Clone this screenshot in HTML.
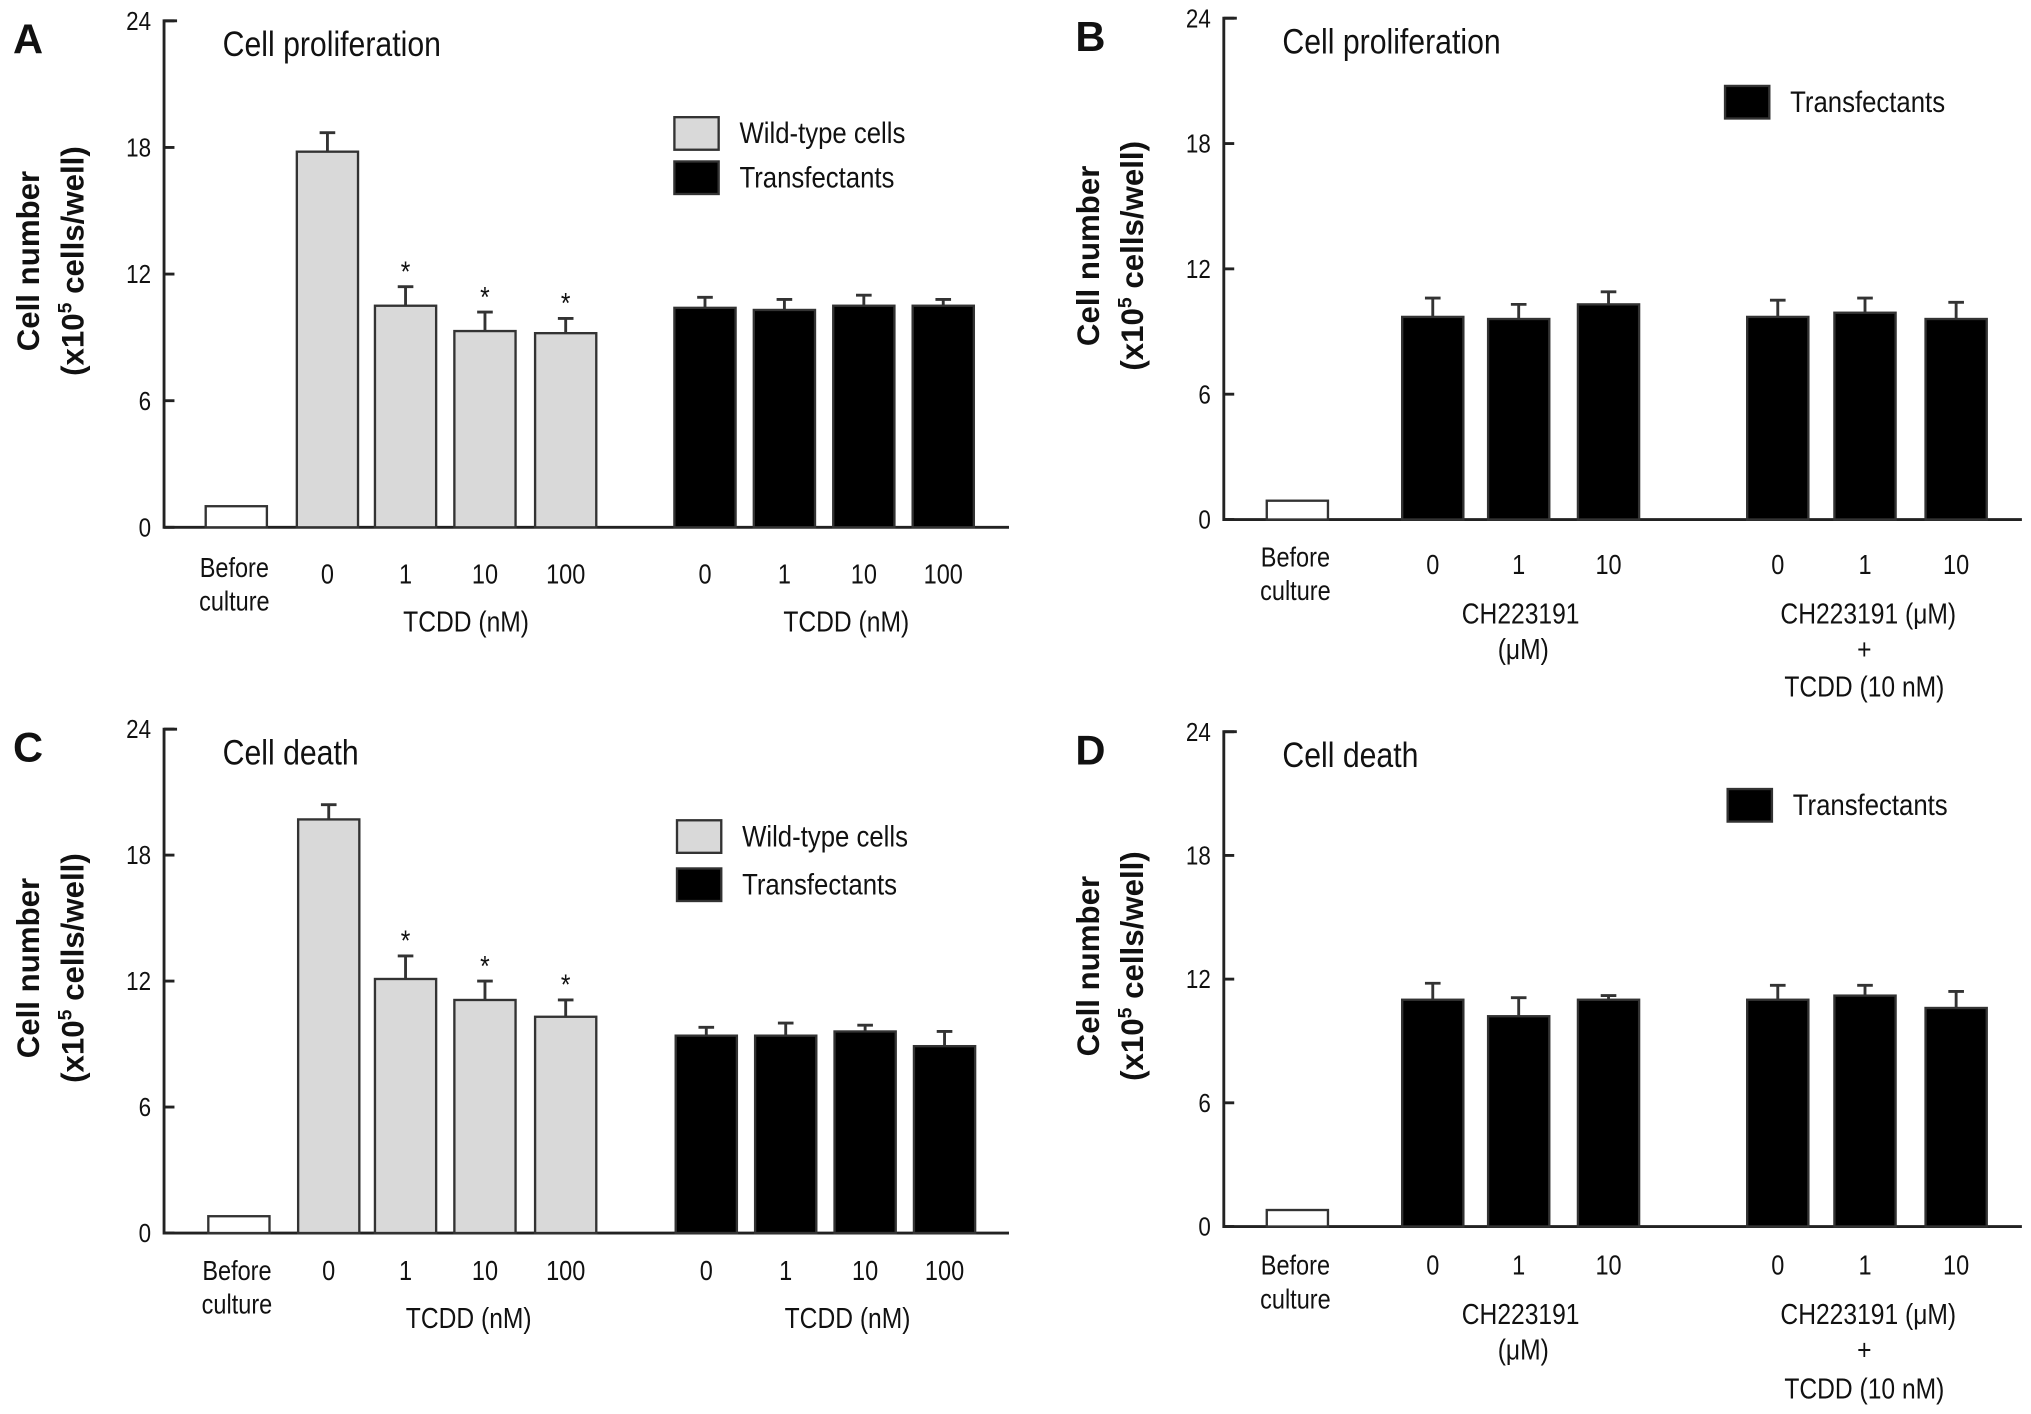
<!DOCTYPE html>
<html><head><meta charset="utf-8"><style>
html,body{margin:0;padding:0;background:#fff;}
svg{display:block;font-family:"Liberation Sans Narrow","Liberation Sans",sans-serif;}
</style></head><body>
<svg id="fig" width="2031" height="1414" viewBox="0 0 1560 1086" preserveAspectRatio="none" xmlns="http://www.w3.org/2000/svg"></svg>
<script>
// Panel A data
const aCats = ["Before culture","0","1","10","100","0","1","10","100"];
const aVals = [1.0,17.8,10.5,9.3,9.2,10.4,10.3,10.5,10.5];
const aErrs = [null,18.7,11.4,10.2,9.9,10.9,10.8,11.0,10.8];
const aStars = [false,false,true,true,true,false,false,false,false];
// Panel B data
const bCats = ["Before culture","0","1","10","0","1","10"];
const bVals = [0.9,9.7,9.6,10.3,9.7,9.9,9.6];
const bErrs = [null,10.6,10.3,10.9,10.5,10.6,10.4];
// Panel C data
const cCats = ["Before culture","0","1","10","100","0","1","10","100"];
const cVals = [0.8,19.7,12.1,11.1,10.3,9.4,9.4,9.6,8.9];
const cErrs = [null,20.4,13.2,12.0,11.1,9.8,10.0,9.9,9.6];
const cStars = [false,false,true,true,true,false,false,false,false];
// Panel D data
const dCats = ["Before culture","0","1","10","0","1","10"];
const dVals = [0.8,11.0,10.2,11.0,11.0,11.2,10.6];
const dErrs = [null,11.8,11.1,11.2,11.7,11.7,11.4];
const yTicks = [0,6,12,18,24];

const NS="http://www.w3.org/2000/svg";
const svg=document.getElementById('fig');
function mk(tag,attrs,parent){const e=document.createElementNS(NS,tag);for(const k in attrs)e.setAttribute(k,attrs[k]);(parent||svg).appendChild(e);return e;}
// condensed text: scaleX 0.85 around x
function txt(s,x,y,size,anchor,parent,weight,sx){sx=sx||0.86;const t=mk('text',{x:x/sx,y:y,transform:`scale(${sx},1)`,'font-size':size,'text-anchor':anchor||'middle',fill:'#111','font-weight':weight||'normal'},parent);t.textContent=s;return t;}

function panel(cfg){
  const g=mk('g',{});
  
  
  const y=v=>cfg.y0-(cfg.y0-cfg.y24)*v/24;
  const ax=mk('path',{d:`M${cfg.ax+10},${cfg.y24} H${cfg.ax} V${cfg.y0} H${cfg.xEnd}`,stroke:'#222','stroke-width':2.2,fill:'none'},g);
  
  
  yTicks.forEach(t=>{
    mk('line',{x1:cfg.ax,x2:cfg.ax+8,y1:y(t),y2:y(t),stroke:'#222','stroke-width':2.2},g);
    const tl=txt(String(t),cfg.ax-10,y(t)+7,20,'end',g);
    
    
  });
  cfg.vals.forEach((v,i)=>{
    const x=cfg.xs[i];
    const fill=i===0?'#fff':(cfg.gray&&i<5?'#d9d9d9':'#000');
    const r=mk('rect',{x:x,y:y(v),width:47,height:cfg.y0-y(v),fill:fill,stroke:'#333','stroke-width':1.8},g);
    
    
    const e=cfg.errs[i];
    if(e!==null){
      const cx=x+23.5;
      const eb=mk('path',{d:`M${cx},${y(v)} V${y(e)} M${cx-6},${y(e)} H${cx+6}`,stroke:'#333','stroke-width':2.2,fill:'none'},g);
      
      
      if(cfg.stars&&cfg.stars[i]){const s=txt('*',cx,y(e)-4,22,'middle',g);
        
        }
    }
    if(i>0){const l=txt(cfg.cats[i],x+23.5,cfg.numY,21,'middle',g);
      
      }
  });
  const b1=txt('Before',cfg.xs[0]+22,cfg.befY,21,'middle',g);
  
  
  const b2=txt('culture',cfg.xs[0]+22,cfg.befY+26,21,'middle',g);
  
  
  const L=mk('text',{x:cfg.letterX,y:cfg.y24+25,'font-size':32,'font-weight':'bold',fill:'#111','font-family':'Liberation Sans,sans-serif'},g);
  L.textContent=cfg.id.toUpperCase();
  
  
  const T=txt(cfg.title,cfg.ax+45,cfg.y24+27,27,'start',g,'normal');
  
  
  const ym=(cfg.y24+cfg.y0)/2-10;
  const yt=mk('text',{transform:`translate(${cfg.ax-96},${ym}) rotate(-90)`,'font-size':24,'font-weight':'bold','text-anchor':'middle',fill:'#111','font-family':'Liberation Sans,sans-serif'},g);
  yt.textContent='Cell number';
  
  
  const yt2=mk('text',{transform:`translate(${cfg.ax-62},${ym}) rotate(-90)`,'font-size':24,'font-weight':'bold','text-anchor':'middle',fill:'#111','font-family':'Liberation Sans,sans-serif'},g);
  yt2.innerHTML='(x10<tspan dy="-9" font-size="15">5</tspan><tspan dy="9"> cells/well)</tspan>';
  
  
  cfg.legend.forEach(l=>{
    const lr=mk('rect',{x:l.x,y:l.y,width:34,height:25,fill:l.fill,stroke:'#333','stroke-width':1.8},g);
    
    
    const lt=txt(l.label,l.x+50,l.y+20,23,'start',g);
    
    
  });
  cfg.groupLabels.forEach(gl=>{const t=txt(gl.s,gl.x,gl.y,22,'middle',g);
    
    });
}
const xsAC=[158,228,288,349,411,518,579,640,701];
const xsBD=[973,1077,1143,1212,1342,1409,1479];
panel({id:'a',letterX:10,title:'Cell proliferation',ax:126,y24:16,y0:405,xEnd:775,xs:xsAC,cats:aCats,vals:aVals,errs:aErrs,stars:aStars,gray:true,numY:448,befY:443,
  legend:[{x:518,y:90,fill:'#d9d9d9',label:'Wild-type cells'},{x:518,y:124,fill:'#000',label:'Transfectants'}],
  groupLabels:[{s:'TCDD  (nM)',x:358,y:485},{s:'TCDD  (nM)',x:650,y:485}]});
panel({id:'b',letterX:826,title:'Cell proliferation',ax:940,y24:14,y0:399,xEnd:1553,xs:xsBD,cats:bCats,vals:bVals,errs:bErrs,gray:false,numY:441,befY:435,
  legend:[{x:1325,y:66,fill:'#000',label:'Transfectants'}],
  groupLabels:[{s:'CH223191',x:1168,y:479},{s:'(μM)',x:1170,y:506},{s:'CH223191 (μM)',x:1435,y:479},{s:'+',x:1432,y:506},{s:'TCDD (10 nM)',x:1432,y:535}]});
panel({id:'c',letterX:10,title:'Cell death',ax:126,y24:560,y0:947,xEnd:775,xs:[160,229,288,349,411,519,580,641,702],cats:cCats,vals:cVals,errs:cErrs,stars:cStars,gray:true,numY:983,befY:983,
  legend:[{x:520,y:630,fill:'#d9d9d9',label:' Wild-type cells'},{x:520,y:667,fill:'#000',label:'Transfectants'}],
  groupLabels:[{s:'TCDD  (nM)',x:360,y:1020},{s:'TCDD  (nM)',x:651,y:1020}]});
panel({id:'d',letterX:826,title:'Cell death',ax:940,y24:562,y0:942,xEnd:1553,xs:xsBD,cats:dCats,vals:dVals,errs:dErrs,gray:false,numY:979,befY:979,
  legend:[{x:1327,y:606,fill:'#000',label:'Transfectants'}],
  groupLabels:[{s:'CH223191',x:1168,y:1017},{s:'(μM)',x:1170,y:1044},{s:'CH223191 (μM)',x:1435,y:1017},{s:'+',x:1432,y:1044},{s:'TCDD (10 nM)',x:1432,y:1074}]});
</script>
</body></html>
